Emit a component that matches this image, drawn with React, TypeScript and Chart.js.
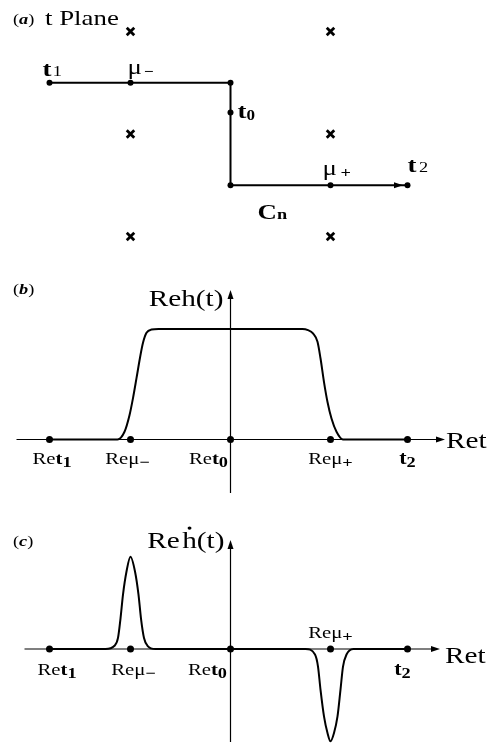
import React, { useEffect, useRef } from "react";
import { Chart, registerables } from "chart.js";

Chart.register(...registerables);

// (a) integration contour C_n in the complex t plane
const contourRe = [-1.81, -1, 0, 0, 0, 1, 1.77];
const contourIm = [0.5, 0.5, 0.5, 0.21, -0.5, -0.5, -0.5];
// singularities (crosses)
const poleRe = [-1, -1, -1, 1, 1, 1];
const poleIm = [1, 0, -1, 1, 0, -1];

// marked points on the Re t axis: Re t1, Re mu-, Re t0, Re mu+, t2
const markRe = [-1.81, -1, 0, 1, 1.77];

// (b) Re h(t)
const hRe = [-1.81, -1.13, -1.06, -1.01, -0.975, -0.94, -0.905, -0.875, -0.84, -0.79, -0.72, 0.72, 0.775, 0.825, 0.87, 0.9, 0.935, 0.97, 1.01, 1.06, 1.125, 1.77];
const hVal = [0, 0, 0.07, 0.22, 0.375, 0.555, 0.74, 0.875, 0.965, 0.995, 1, 1, 0.99, 0.96, 0.885, 0.735, 0.52, 0.34, 0.19, 0.07, 0, 0];

// (c) Re h'(t)
const dhRe = [-1.81, -1.25, -1.16, -1.125, -1.1, -1.075, -1.04, -1.0, -0.955, -0.92, -0.895, -0.865, -0.83, -0.75, 0.75, 0.845, 0.875, 0.9, 0.935, 0.97, 1.0, 1.035, 1.07, 1.1, 1.125, 1.16, 1.23, 1.77];
const dhVal = [0, 0, 0.035, 0.12, 0.33, 0.59, 0.84, 1, 0.84, 0.59, 0.33, 0.12, 0.035, 0, 0, -0.06, -0.19, -0.44, -0.73, -0.91, -1, -0.91, -0.73, -0.44, -0.19, -0.06, 0, 0];

const SERIF = '"Liberation Serif", "Times New Roman", serif';
const f = (size: number, weight = "normal", style = "normal") =>
  `${style} ${weight} ${size}px ${SERIF}`;
// all lettering is set a little wide
const TEXT_STRETCH = 1.22;

type Seg = { t: string; font: string; dy?: number; gap?: number; dot?: boolean };
type Label = {
  segs: Seg[];
  align?: "left" | "center" | "right";
  ax?: number; // anchor in data units
  ay?: number;
  px?: number; // anchor in canvas pixels
  py?: number;
  dx?: number;
  dy?: number;
};
type Axes = { xFrom: number; xTo: number; yFrom: number; yTo: number };
type Arrow = { x: number; y: number };

const pts = (xs: number[], ys: number[]) => xs.map((x, i) => ({ x, y: ys[i] }));

const reT = (sub: string): Seg[] => [
  { t: "Re", font: f(17) },
  { t: "t", font: f(17, "bold") },
  { t: sub, font: f(15, "bold"), dy: 3 },
];
const reMu = (sign: string): Seg[] => [
  { t: "Re", font: f(17) },
  { t: "μ", font: f(17) },
  { t: sign, font: f(15, "bold"), dy: 3 },
];
const tSub = (sub: string): Seg[] => [
  { t: "t", font: f(18, "bold") },
  { t: sub, font: f(15, "bold"), dy: 3 },
];

function drawRich(
  ctx: CanvasRenderingContext2D,
  segs: Seg[],
  x: number,
  y: number,
  align: "left" | "center" | "right"
) {
  const widths = segs.map((s) => {
    ctx.font = s.font;
    return ctx.measureText(s.t).width;
  });
  const total = widths.reduce((a, w, i) => a + w + (segs[i].gap || 0), 0) * TEXT_STRETCH;
  const start = align === "center" ? x - total / 2 : align === "right" ? x - total : x;
  ctx.save();
  ctx.translate(start, y);
  ctx.scale(TEXT_STRETCH, 1);
  let cx = 0;
  segs.forEach((s, i) => {
    cx += s.gap || 0;
    ctx.font = s.font;
    ctx.fillText(s.t, cx, s.dy || 0);
    if (s.dot) {
      ctx.beginPath();
      ctx.arc(cx + widths[i] * 0.5, -20, 1.6, 0, Math.PI * 2);
      ctx.fill();
    }
    cx += widths[i];
  });
  ctx.restore();
}

function arrowHead(ctx: CanvasRenderingContext2D, x: number, y: number, dir: "right" | "up") {
  const len = 9;
  const half = 3;
  ctx.beginPath();
  if (dir === "right") {
    ctx.moveTo(x, y);
    ctx.lineTo(x - len, y - half);
    ctx.lineTo(x - len, y + half);
  } else {
    ctx.moveTo(x, y);
    ctx.lineTo(x - half, y + len);
    ctx.lineTo(x + half, y + len);
  }
  ctx.closePath();
  ctx.fill();
}

function sketchPlugin(axes: Axes | null, arrows: Arrow[], labels: Label[]) {
  return {
    id: "sketch",
    beforeDatasetsDraw(chart: any) {
      if (!axes) return;
      const ctx: CanvasRenderingContext2D = chart.ctx;
      const xs = chart.scales.x;
      const ys = chart.scales.y;
      ctx.save();
      ctx.strokeStyle = "#000";
      ctx.fillStyle = "#000";
      ctx.lineWidth = 1.2;
      const y0 = ys.getPixelForValue(0);
      const x0 = xs.getPixelForValue(0);
      const xa = xs.getPixelForValue(axes.xFrom);
      const xb = xs.getPixelForValue(axes.xTo);
      const ya = ys.getPixelForValue(axes.yFrom);
      const yb = ys.getPixelForValue(axes.yTo);
      ctx.beginPath();
      ctx.moveTo(xa, y0);
      ctx.lineTo(xb - 4, y0);
      ctx.moveTo(x0, ya);
      ctx.lineTo(x0, yb + 4);
      ctx.stroke();
      arrowHead(ctx, xb, y0, "right");
      arrowHead(ctx, x0, yb, "up");
      ctx.restore();
    },
    afterDatasetsDraw(chart: any) {
      const ctx: CanvasRenderingContext2D = chart.ctx;
      const xs = chart.scales.x;
      const ys = chart.scales.y;
      ctx.save();
      ctx.fillStyle = "#000";
      ctx.textBaseline = "alphabetic";
      ctx.textAlign = "left";
      arrows.forEach((a) => arrowHead(ctx, xs.getPixelForValue(a.x), ys.getPixelForValue(a.y), "right"));
      labels.forEach((l) => {
        const bx = l.ax !== undefined ? xs.getPixelForValue(l.ax) : l.px || 0;
        const by = l.ay !== undefined ? ys.getPixelForValue(l.ay) : l.py || 0;
        drawRich(ctx, l.segs, bx + (l.dx || 0), by + (l.dy || 0), l.align || "left");
      });
      ctx.restore();
    },
  };
}

type PanelSpec = {
  top: number;
  height: number;
  yMin: number;
  yMax: number;
  datasets: any[];
  axes: Axes | null;
  arrows: Arrow[];
  labels: Label[];
};

// horizontal mapping shared by all panels: Re t = 0 at x = 230.5 px, 100 px per unit
const X_MIN = -2.305;
const X_MAX = 2.575;
const WIDTH = 488;

function Panel({ spec }: { spec: PanelSpec }) {
  const ref = useRef<HTMLCanvasElement | null>(null);
  useEffect(() => {
    if (!ref.current) return;
    const chart = new Chart(ref.current, {
      type: "scatter",
      data: { datasets: spec.datasets },
      options: {
        animation: false,
        responsive: false,
        devicePixelRatio: 1,
        layout: { padding: 0, autoPadding: false },
        events: [],
        plugins: { legend: { display: false }, tooltip: { enabled: false } },
        scales: {
          x: { type: "linear", min: X_MIN, max: X_MAX, display: false },
          y: { type: "linear", min: spec.yMin, max: spec.yMax, display: false },
        },
      },
      plugins: [sketchPlugin(spec.axes, spec.arrows, spec.labels)],
    });
    return () => chart.destroy();
  }, [spec]);
  return (
    <canvas
      ref={ref}
      width={WIDTH}
      height={spec.height}
      style={{ position: "absolute", left: 0, top: spec.top, width: WIDTH, height: spec.height }}
    />
  );
}

const curveStyle = {
  showLine: true,
  borderColor: "#000",
  borderWidth: 2,
  pointRadius: 0,
  cubicInterpolationMode: "monotone",
  clip: false,
};
const dotStyle = {
  showLine: false,
  pointRadius: 3.5,
  pointBackgroundColor: "#000",
  pointBorderWidth: 0,
  clip: false,
};

const marks = markRe.map((x) => ({ x, y: 0 }));

const panelA: PanelSpec = {
  top: 0,
  height: 255,
  yMin: -(255 - 134) / 102.5,
  yMax: 134 / 102.5,
  axes: null,
  arrows: [{ x: 1.725, y: -0.5 }],
  datasets: [
    {
      data: pts(contourRe, contourIm),
      showLine: true,
      borderColor: "#000",
      borderWidth: 2,
      tension: 0,
      pointRadius: 3,
      pointBackgroundColor: "#000",
      pointBorderWidth: 0,
      clip: false,
    },
    {
      data: pts(poleRe, poleIm),
      showLine: false,
      pointStyle: "crossRot",
      pointRadius: 5.3,
      borderColor: "#000",
      borderWidth: 2.8,
      clip: false,
    },
  ],
  labels: [
    { px: 13, py: 24, segs: [{ t: "(", font: f(15) }, { t: "a", font: f(15, "bold", "italic") }, { t: ")", font: f(15) }] },
    { px: 45, py: 25, segs: [{ t: "t Plane", font: f(22) }] },
    { ax: contourRe[0], ay: contourIm[0], dx: -7, dy: -7, segs: [{ t: "t", font: f(22, "bold") }, { t: "1", font: f(15), gap: 1 }] },
    { ax: contourRe[1], ay: contourIm[1], dx: -3, dy: -9, segs: [{ t: "μ", font: f(22) }, { t: "−", font: f(14, "bold"), dy: 2, gap: 2 }] },
    { ax: contourRe[3], ay: contourIm[3], dx: 7, dy: 6, segs: [{ t: "t", font: f(22, "bold") }, { t: "0", font: f(14, "bold"), dy: 2 }] },
    { ax: contourRe[5], ay: contourIm[5], dx: -8, dy: -10, segs: [{ t: "μ", font: f(22) }, { t: "+", font: f(15, "bold"), dy: 2, gap: 3 }] },
    { ax: contourRe[6], ay: contourIm[6], dx: 0, dy: -13, segs: [{ t: "t", font: f(22, "bold") }, { t: "2", font: f(15), gap: 2 }] },
    { ax: 0.27, ay: -0.5, dy: 34, segs: [{ t: "C", font: f(22, "bold") }, { t: "n", font: f(15, "bold") }] },
  ],
};

const panelB: PanelSpec = {
  top: 255,
  height: 245,
  yMin: -(245 - 184.5) / 110.5,
  yMax: 184.5 / 110.5,
  axes: { xFrom: -2.14, xTo: 2.145, yFrom: -0.484, yTo: 1.353 },
  arrows: [],
  datasets: [
    { ...curveStyle, data: pts(hRe, hVal) },
    { ...dotStyle, data: marks },
  ],
  labels: [
    { px: 13, py: 39, segs: [{ t: "(", font: f(15) }, { t: "b", font: f(15, "bold", "italic") }, { t: ")", font: f(15) }] },
    { ax: 0, ay: 1.353, dx: -7, dy: 16, align: "right", segs: [{ t: "Re", font: f(24) }, { t: "h(t)", font: f(24) }] },
    { ax: 2.145, ay: 0, dx: 1, dy: 8.5, segs: [{ t: "Re", font: f(24) }, { t: "t", font: f(24) }] },
    { ax: markRe[0], ay: 0, dx: 2.5, dy: 24.5, align: "center", segs: reT("1") },
    { ax: markRe[1], ay: 0, dx: -3, dy: 24.5, align: "center", segs: reMu("−") },
    { ax: markRe[2], ay: 0, dx: -2.5, dy: 24.5, align: "right", segs: reT("0") },
    { ax: markRe[3], ay: 0, dx: 0, dy: 24.5, align: "center", segs: reMu("+") },
    { ax: markRe[4], ay: 0, dx: 0, dy: 24.5, align: "center", segs: tSub("2") },
  ],
};

const panelC: PanelSpec = {
  top: 500,
  height: 245,
  yMin: -96 / 92.3,
  yMax: 149 / 92.3,
  axes: { xFrom: -2.06, xTo: 2.095, yFrom: -1.008, yTo: 1.18 },
  arrows: [],
  datasets: [
    { ...curveStyle, data: pts(dhRe, dhVal) },
    { ...dotStyle, data: marks },
  ],
  labels: [
    { px: 13, py: 46, segs: [{ t: "(", font: f(15) }, { t: "c", font: f(15, "bold", "italic") }, { t: ")", font: f(15) }] },
    { ax: 0, ay: 1.18, dx: -6, dy: 8, align: "right", segs: [{ t: "Re", font: f(24) }, { t: "h", font: f(24), dot: true, gap: 2 }, { t: "(t)", font: f(24) }] },
    { ax: 2.095, ay: 0, dx: 5, dy: 14, segs: [{ t: "Re", font: f(24) }, { t: "t", font: f(24) }] },
    { ax: markRe[0], ay: 0, dx: 7.5, dy: 26, align: "center", segs: reT("1") },
    { ax: markRe[1], ay: 0, dx: 3, dy: 26, align: "center", segs: reMu("−") },
    { ax: markRe[2], ay: 0, dx: -3.5, dy: 26, align: "right", segs: reT("0") },
    { ax: markRe[3], ay: 0, dx: 0, dy: -11, align: "center", segs: reMu("+") },
    { ax: markRe[4], ay: 0, dx: -5, dy: 26, align: "center", segs: tSub("2") },
  ],
};

export default function App() {
  return (
    <div style={{ position: "absolute", left: 0, top: 0, width: WIDTH, height: 745, background: "#fff" }}>
      <Panel spec={panelA} />
      <Panel spec={panelB} />
      <Panel spec={panelC} />
    </div>
  );
}
